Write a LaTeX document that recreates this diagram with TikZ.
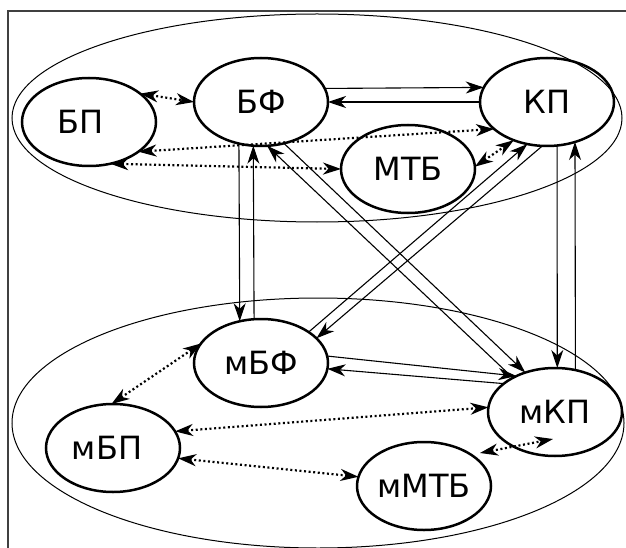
\documentclass[tikz,border=0pt]{standalone}
\usepackage{fontspec}
\setmainfont{DejaVu Sans}
\usetikzlibrary{shapes.geometric,arrows.meta,calc}
\begin{document}
\begin{tikzpicture}[x=1pt,y=-1pt,
  nd/.style={ellipse,draw,line width=2.5pt,minimum width=134pt,minimum height=88pt,
    inner sep=0pt,outer sep=0pt,font=\fontsize{32pt}{37pt}\selectfont},
  conn/.style={line width=1.1pt,-{Stealth[length=18pt,width=12pt,inset=5.5pt]}},
  dots/.style={line width=2.2pt,dash pattern=on 2pt off 2.6pt,
    {Stealth[length=18pt,width=12pt,inset=5.5pt]}-{Stealth[length=18pt,width=12pt,inset=5.5pt]}},
  grp/.style={line width=1pt}]
\useasboundingbox (0,0) rectangle (626,548);
% frame
\draw[line width=1.2pt,black!75] (8,600) -- (8,11) -- (700,11);
% group ellipses
\draw[grp] (317,118) ellipse [x radius=305pt, y radius=104pt];
\draw[grp] (318,423) ellipse [x radius=306pt, y radius=125pt];
% nodes
\node[nd] (BP)   at (89,122)  {БП\kern16pt};
\node[nd] (BF)   at (261,102) {БФ};
\node[nd] (KP)   at (547,102) {КП};
\node[nd] (MTB)  at (408,169) {МТБ};
\node[nd] (mBF)  at (261,363) {мБФ};
\node[nd] (mBP)  at (113,448) {мБП\kern12pt};
\node[nd] (mKP)  at (555,412) {мКП};
\node[nd] (mMTB) at (424,486) {мМТБ};
% upper group
\draw[dots] (BP.29.5) -- (BF.180);
\draw[conn] (BF.12.5) -- (KP.167.5);
\draw[conn] (KP.180) -- (BF.0);
\draw[dots] (BP.-31.3) -- (KP.207);
\draw[dots] (BP.-63.3) -- (MTB.180);
\draw[dots] (MTB.2) -- (KP.229.6);
% between groups
\draw[conn] (mBF.33.4) -- (KP.245.1);
\draw[conn] (KP.264) -- (mBF.24.9);
\draw[conn] (mKP.141) -- (BF.278.8);
\draw[conn] (BF.299.2) -- (mKP.127.5);
\draw[conn] (BF.242.1) -- (mBF.117.9);
\draw[conn] (mBF.99.1) -- (BF.260.9);
\draw[conn] (KP.283) -- (mKP.87.4);
\draw[conn] (mKP.64.5) -- (KP.305);
% lower group
\draw[conn] (mBF.6.8) -- (mKP.137.1);
\draw[conn] (mKP.151.3) -- (mBF.355);
\draw[dots] (mBF.162.6) -- (mBP.92);
\draw[dots] (mBP.15.7) -- (mKP.176.6);
\draw[dots] (mBP.351.5) -- (mMTB.172.9);
\draw[dots] ($(mMTB.center)+(56,-33)$) -- ($(mKP.center)+(-2,27)$);
\end{tikzpicture}
\end{document}
